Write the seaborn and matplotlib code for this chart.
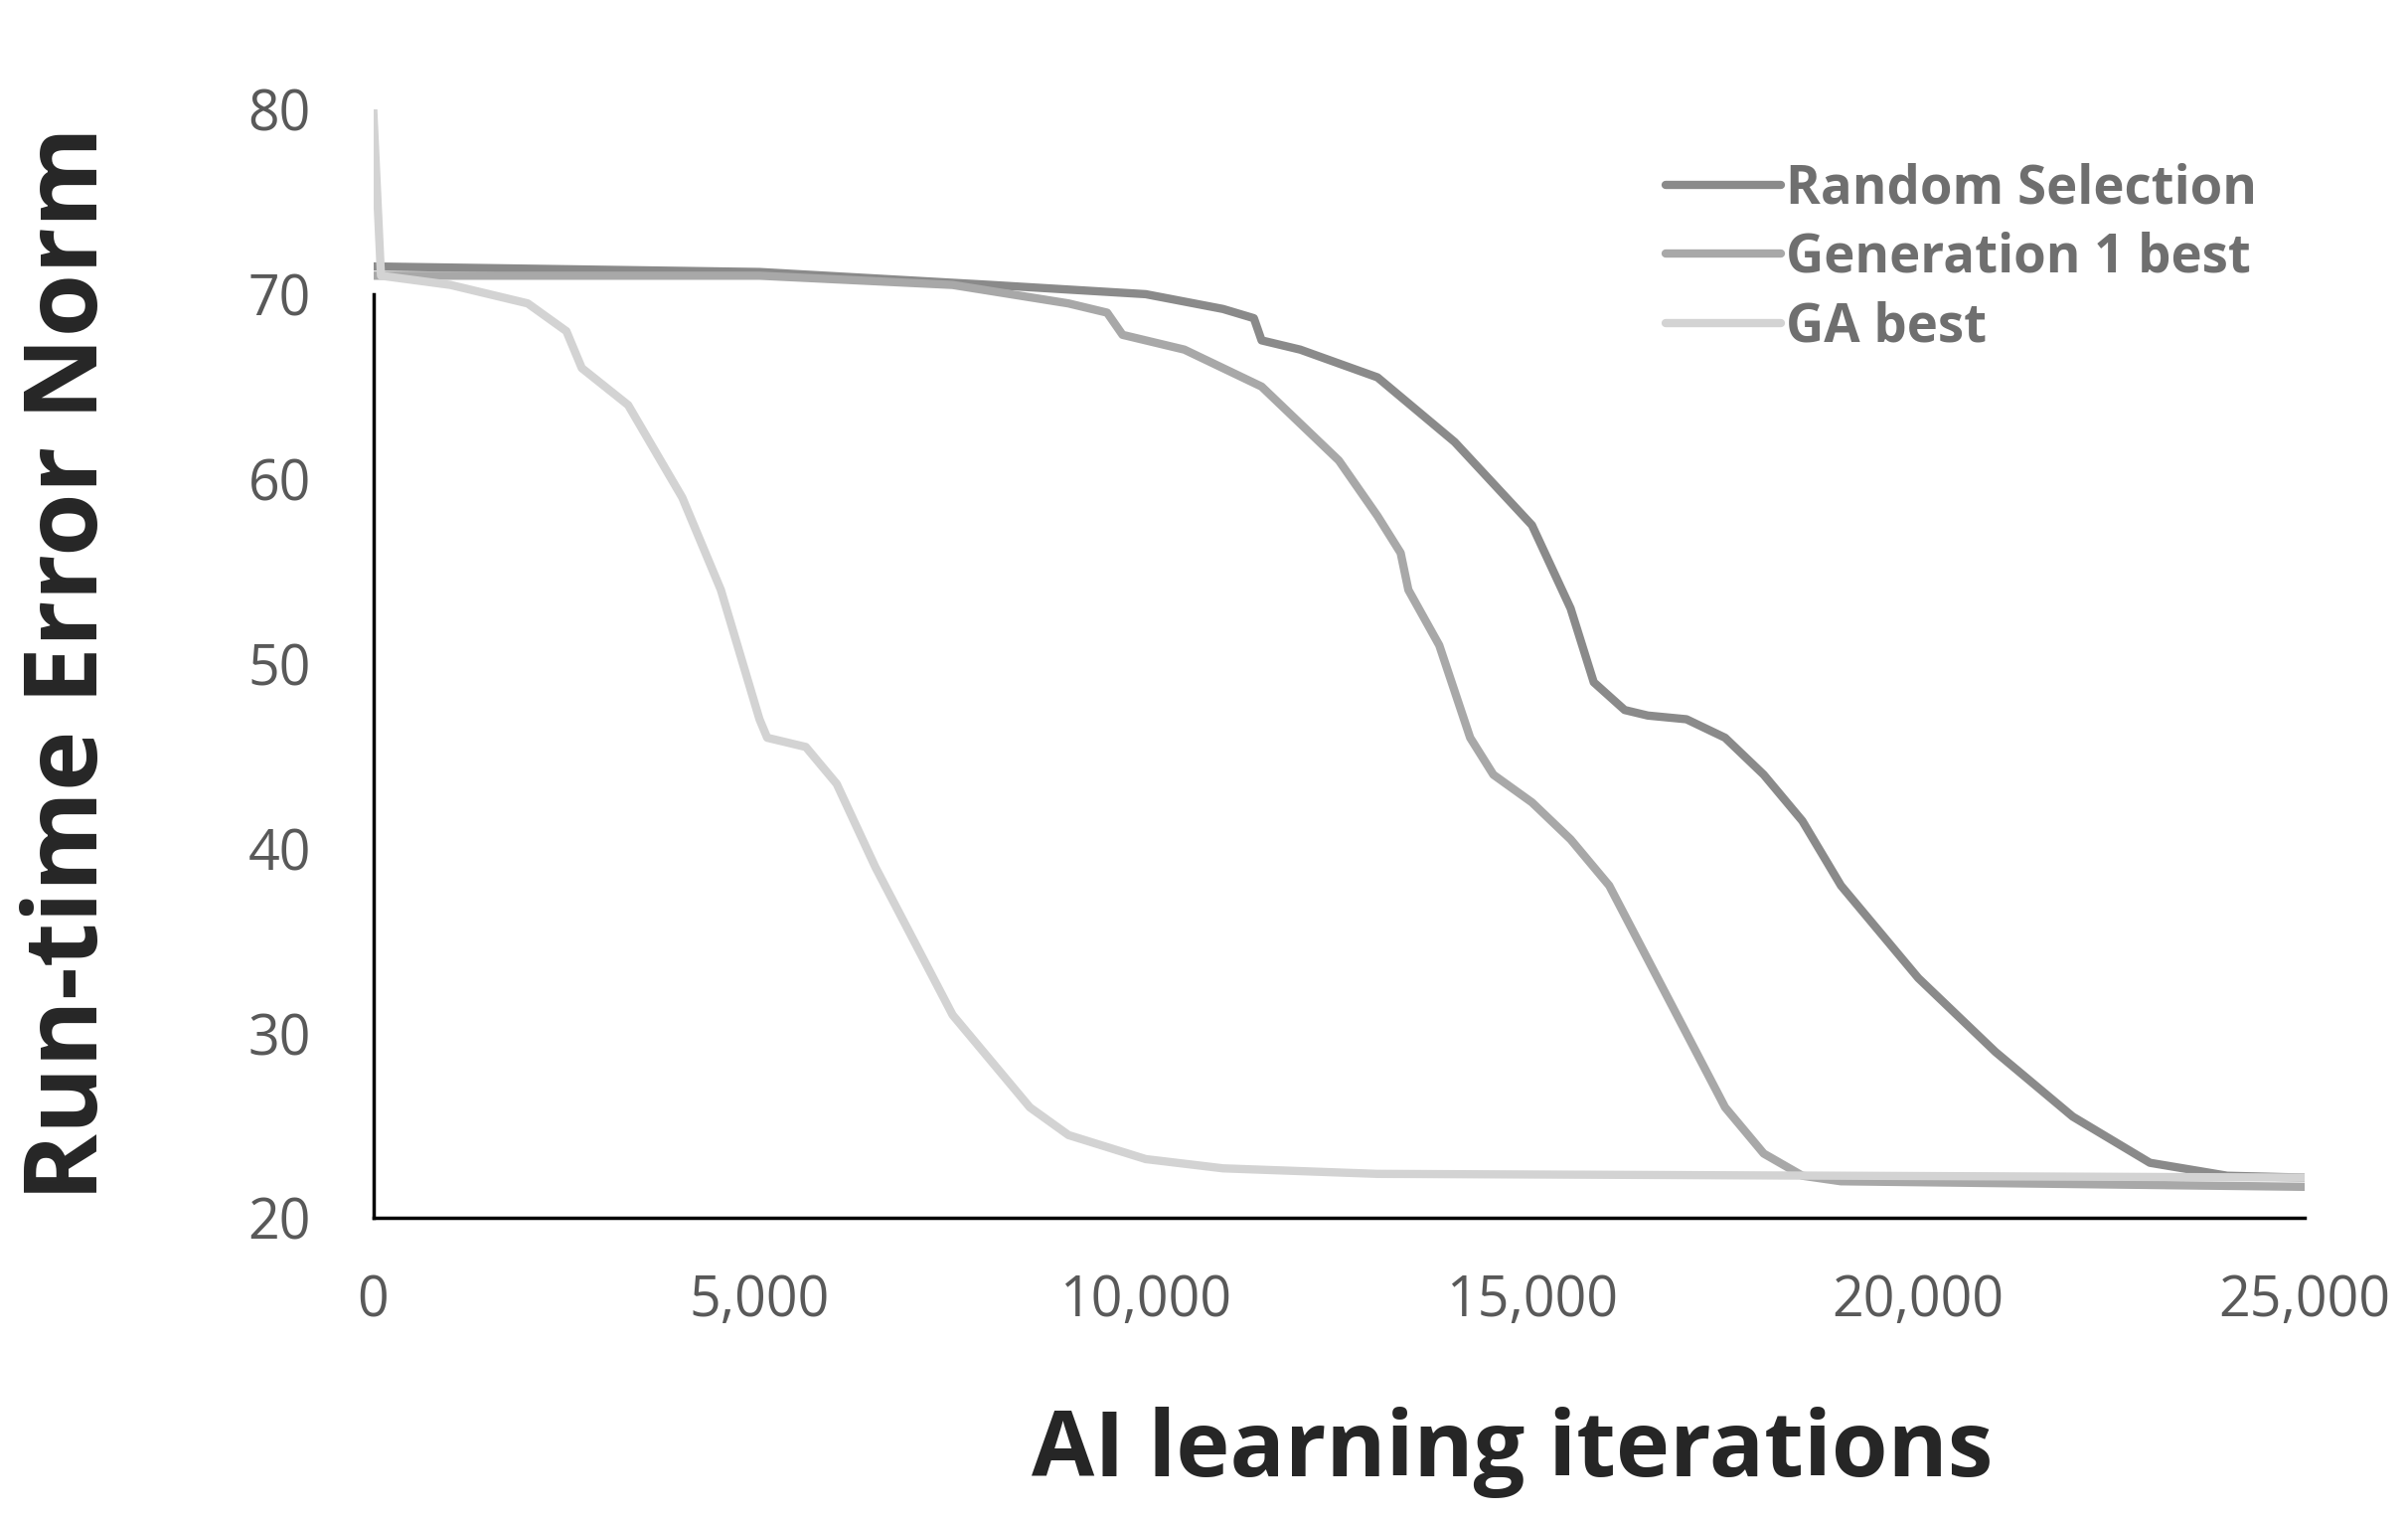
import pandas as pd
import matplotlib
matplotlib.use('Agg')
import matplotlib.pyplot as plt
import seaborn as sns

# values
ga_x = [0, 100, 1000, 2000, 2500, 2700, 3300, 4000, 4500, 5000, 5100, 5600, 6000, 6500, 7000,
        7500, 8000, 8500, 9000, 10000, 11000, 13000, 25000]
ga_y = [80, 71, 70.5, 69.5, 68, 66, 64, 59, 54, 47, 46, 45.5, 43.5, 39, 35,
        31, 28.5, 26, 24.5, 23.2, 22.7, 22.4, 22.2]

gen1_x = [0, 5000, 7500, 9000, 9500, 9700, 10500, 11500, 12500, 13000, 13300, 13400, 13800, 14200,
          14500, 15000, 15500, 16000, 16500, 17000, 17500, 18000, 18500, 19000, 25000]
gen1_y = [71, 71, 70.5, 69.5, 69, 67.8, 67, 65, 61, 58, 56, 54, 51, 46,
          44, 42.5, 40.5, 38, 34, 30, 26, 23.5, 22.3, 22, 21.7]

rand_x = [0, 5000, 8000, 10000, 11000, 11400, 11500, 12000, 13000, 14000, 15000, 15500, 15800, 16200,
          16500, 17000, 17500, 18000, 18500, 19000, 20000, 21000, 22000, 23000, 24000, 25000]
rand_y = [71.5, 71.2, 70.5, 70, 69.2, 68.7, 67.5, 67, 65.5, 62, 57.5, 53, 49, 47.5,
          47.2, 47, 46, 44, 41.5, 38, 33, 29, 25.5, 23, 22.3, 22.2]

series = ["Random Selection", "Generation 1 best", "GA best"]
colors = ["#8a8a8a", "#a8a8a8", "#d3d3d3"]

df = pd.concat([
    pd.DataFrame({"x": rand_x, "y": rand_y, "s": series[0]}),
    pd.DataFrame({"x": gen1_x, "y": gen1_y, "s": series[1]}),
    pd.DataFrame({"x": ga_x, "y": ga_y, "s": series[2]}),
])

sns.set_style("white")
plt.rcParams['font.family'] = ['Open Sans', 'DejaVu Sans']

fig = plt.figure(figsize=(24.23, 15.28), dpi=100)
ax = fig.add_axes([0.155, 0.198, 0.802, 0.73])

sns.lineplot(data=df, x="x", y="y", hue="s", palette=colors, linewidth=6, ax=ax, sort=False)

ax.set_xlim(0, 25000)
ax.set_ylim(20, 80)
ax.set_xticks(range(0, 25001, 5000))
ax.set_xticklabels([f"{v:,}" for v in range(0, 25001, 5000)])
ax.set_yticks(range(20, 81, 10))
ax.tick_params(labelsize=40, colors="#595959", length=0)
ax.tick_params(axis="x", pad=40)
ax.tick_params(axis="y", pad=45)
for sp in ["top", "right"]:
    ax.spines[sp].set_visible(False)
for sp in ["left", "bottom"]:
    ax.spines[sp].set_color("black")
    ax.spines[sp].set_linewidth(2.5)
ax.spines["left"].set_bounds(20, 70)

ax.set_xlabel("AI learning iterations", fontsize=66, fontweight="bold")
ax.xaxis.set_label_coords(0.59, -0.17)
ax.set_ylabel("Run-time Error Norm", fontsize=74, fontweight="bold")
ax.yaxis.set_label_coords(-0.13, 0.5)

leg = ax.legend(frameon=False, fontsize=38, loc="upper right", bbox_to_anchor=(1.0, 0.995),
                handlelength=2.2, handletextpad=0.1, labelspacing=0.3)
for line in leg.get_lines():
    line.set_linewidth(6)
for t in leg.get_texts():
    t.set_color("#6f6f6f")
    t.set_fontweight("bold")

fig.savefig("out.png", dpi=100)
